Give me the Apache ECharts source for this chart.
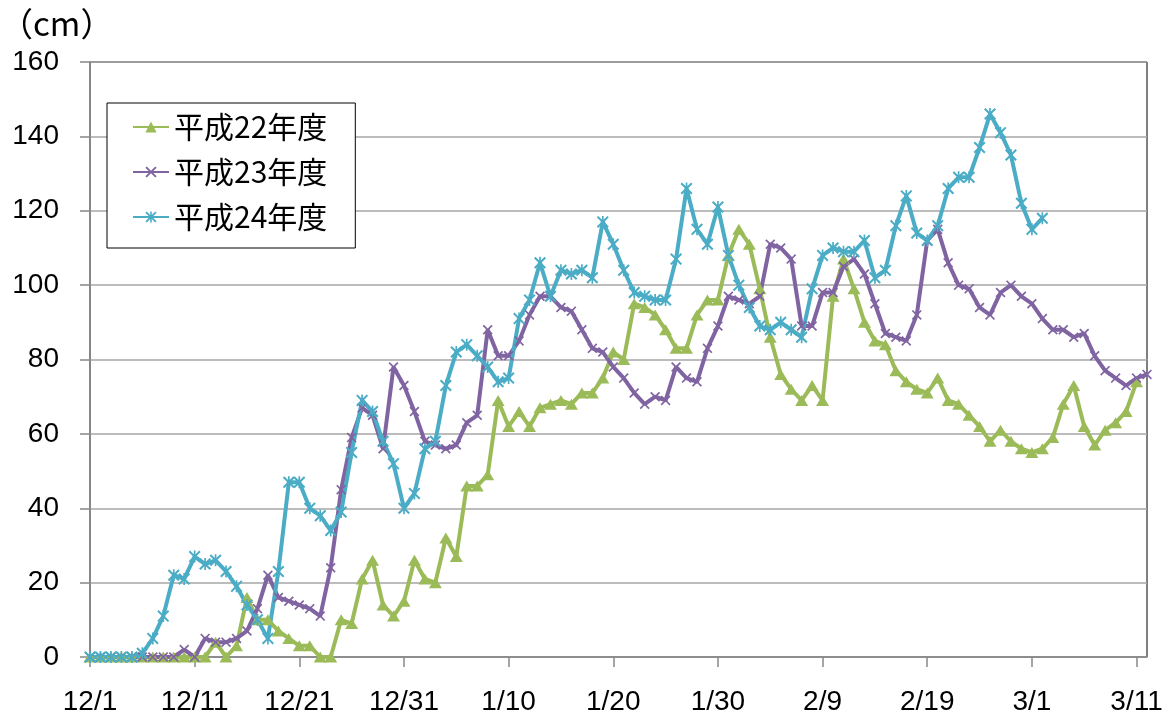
<!DOCTYPE html>
<html>
<head>
<meta charset="utf-8">
<script src="https://cdn.jsdelivr.net/npm/echarts@6/dist/echarts.min.js"></script>
<style>
  html, body { margin: 0; padding: 0; background: #fff; }
  #chart { width: 1172px; height: 719px; }
</style>
</head>
<body>
<div id="chart"></div>
<script>
// Day-by-day snow depth (cm), 12/1 to 3/12
const monthSpans = [[12, 1, 31], [1, 1, 31], [2, 1, 28], [3, 1, 12]];
const categories = [];
monthSpans.forEach(([m, from, to]) => {
  for (let d = from; d <= to; d++) categories.push(m + '/' + d);
});

const seriesNames = ['平成22年度', '平成23年度', '平成24年度'];

const h22 = [
  0, 0, 0, 0, 0, 0, 0, 0, 0, 0,
  0, 0, 4, 0, 3, 16, 10, 10, 7, 5,
  3, 3, 0, 0, 10, 9, 21, 26, 14, 11,
  15, 26, 21, 20, 32, 27, 46, 46, 49, 69,
  62, 66, 62, 67, 68, 69, 68, 71, 71, 75,
  82, 80, 95, 94, 92, 88, 83, 83, 92, 96,
  96, 108, 115, 111, 99, 86, 76, 72, 69, 73,
  69, 97, 107, 99, 90, 85, 84, 77, 74, 72,
  71, 75, 69, 68, 65, 62, 58, 61, 58, 56,
  55, 56, 59, 68, 73, 62, 57, 61, 63, 66,
  74
];

const h23 = [
  0, 0, 0, 0, 0, 0, 0, 0, 0, 2,
  0, 5, 4, 4, 5, 7, 13, 22, 16, 15,
  14, 13, 11, 24, 45, 59, 67, 65, 56, 78,
  73, 66, 58, 57, 56, 57, 63, 65, 88, 81,
  81, 85, 92, 97, 97, 94, 93, 88, 83, 82,
  78, 75, 71, 68, 70, 69, 78, 75, 74, 83,
  89, 97, 96, 95, 97, 111, 110, 107, 89, 89,
  98, 98, 105, 107, 103, 95, 87, 86, 85, 92,
  112, 115, 106, 100, 99, 94, 92, 98, 100, 97,
  95, 91, 88, 88, 86, 87, 81, 77, 75, 73,
  75, 76
];

const h24 = [
  0, 0, 0, 0, 0, 1, 5, 11, 22, 21,
  27, 25, 26, 23, 19, 14, 10, 5, 23, 47,
  47, 40, 38, 34, 39, 55, 69, 66, 58, 52,
  40, 44, 56, 58, 73, 82, 84, 81, 78, 74,
  75, 91, 96, 106, 97, 104, 103, 104, 102, 117,
  111, 104, 98, 97, 96, 96, 107, 126, 115, 111,
  121, 108, 100, 94, 89, 88, 90, 88, 86, 99,
  108, 110, 109, 109, 112, 102, 104, 116, 124, 114,
  112, 116, 126, 129, 129, 137, 146, 141, 135, 122,
  115, 118
];

const colors = ['#9BBB59', '#8064A2', '#4BACC6'];

// marker shapes: cross and asterisk built as filled outlines
const crossPath = 'path://M0,1.2 L1.2,0 L5,3.8 L8.8,0 L10,1.2 L6.2,5 L10,8.8 L8.8,10 L5,6.2 L1.2,10 L0,8.8 L3.8,5 Z';
const starPath = 'path://M0,1.2 L1.2,0 L5,3.8 L8.8,0 L10,1.2 L6.2,5 L10,8.8 L8.8,10 L5,6.2 L1.2,10 L0,8.8 L3.8,5 Z M4.3,0 L5.7,0 L5.7,10 L4.3,10 Z';

const numFont = 'Liberation Sans';
const jpFont = 'Noto Sans CJK JP';

function lineSeries(name, data, color, symbol, size) {
  return {
    name: name,
    type: 'line',
    data: data,
    symbol: symbol,
    symbolSize: size,
    showSymbol: true,
    showAllSymbol: true,
    lineStyle: { color: color, width: 4 },
    itemStyle: { color: color },
    emphasis: { disabled: true }
  };
}

const chart = echarts.init(document.getElementById('chart'), null, { renderer: 'canvas' });
chart.setOption({
  animation: false,
  backgroundColor: '#ffffff',
  grid: {
    left: 90, right: 25, top: 62, bottom: 62,
    show: true, borderColor: '#000000', borderWidth: 1, backgroundColor: 'transparent'
  },
  graphic: [{
    type: 'text', left: 0, top: 7,
    style: { text: '（cm）', font: '33px "' + jpFont + '"', fill: '#000' }
  }],
  legend: {
    orient: 'vertical',
    left: 107, top: 103,
    padding: [9, 28, 16, 25],
    itemGap: 15,
    itemWidth: 36, itemHeight: 14,
    backgroundColor: '#ffffff',
    borderColor: '#000000', borderWidth: 1, borderRadius: 0,
    textStyle: { fontFamily: jpFont, fontSize: 30, color: '#000', lineHeight: 30 },
    data: seriesNames
  },
  xAxis: {
    type: 'category',
    data: categories,
    boundaryGap: false,
    axisLine: { lineStyle: { color: '#888888', width: 1.5 } },
    axisTick: { show: true, interval: 9, length: 10, inside: false, lineStyle: { color: '#888888', width: 1.5 } },
    axisLabel: { interval: 9, margin: 31, fontFamily: numFont, fontSize: 28, color: '#000' },
    splitLine: { show: false }
  },
  yAxis: {
    type: 'value',
    min: 0, max: 160, interval: 20,
    axisLine: { show: true, lineStyle: { color: '#888888', width: 1.5 } },
    axisTick: { show: true, length: 10, lineStyle: { color: '#888888', width: 1.5 } },
    axisLabel: { margin: 31, fontFamily: numFont, fontSize: 28, color: '#000' },
    splitLine: { show: true, lineStyle: { color: '#A6A6A6', width: 1.5 } }
  },
  series: [
    lineSeries(seriesNames[0], h22, colors[0], 'triangle', [13, 11]),
    lineSeries(seriesNames[1], h23, colors[1], crossPath, 10),
    lineSeries(seriesNames[2], h24, colors[2], starPath, 12)
  ]
});
</script>
</body>
</html>
